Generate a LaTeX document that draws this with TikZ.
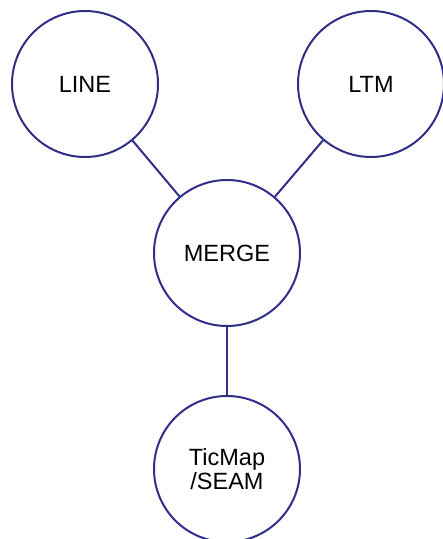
\documentclass[tikz,border=0pt]{standalone}
\usepackage{fontspec}
\setmainfont{Liberation Sans}
\usepackage{tikz}
\usetikzlibrary{positioning}

\definecolor{navy}{RGB}{48,46,136}

\begin{document}
\begin{tikzpicture}[x=1pt, y=-1pt]
        \tikzstyle{every node}=[circle, draw=navy, line width=2pt, minimum size=146pt, inner sep=0pt, align=center, font=\fontsize{23.5}{24}\selectfont]
        \tikzstyle{link}=[draw=navy, line width=2pt]

        \useasboundingbox (0,0) rectangle (443,539);

        \node (line)   at (85,84)   {LINE};
        \node (ltm)    at (371,84)  {LTM};
        \node (merge)  at (227,253) {MERGE};
        \node (ticmap) at (227,469) {TicMap\\/SEAM};

        \draw[link] (line) -- (merge);
        \draw[link] (ltm) -- (merge);
        \draw[link] (merge) -- (ticmap);

    \end{tikzpicture}
\end{document}
